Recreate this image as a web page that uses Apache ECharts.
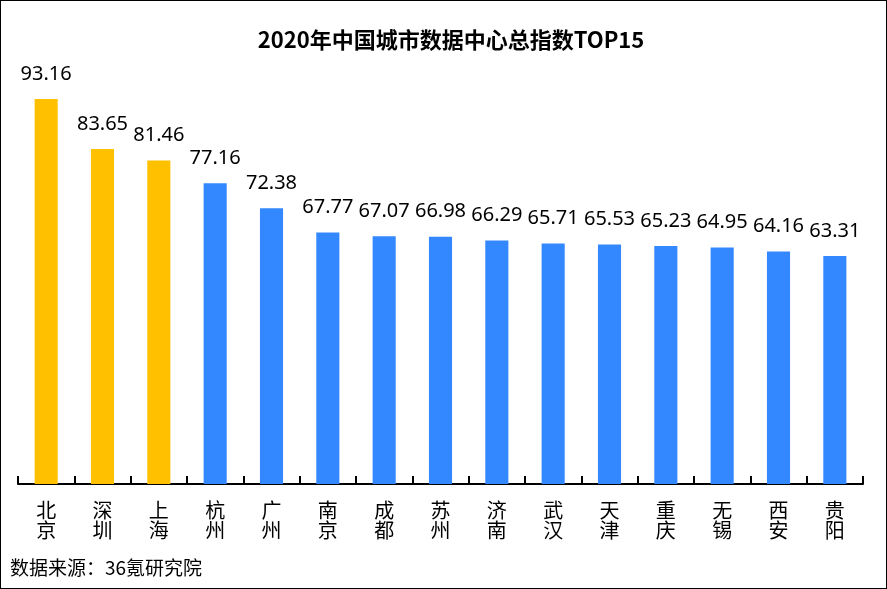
<!DOCTYPE html>
<html><head><meta charset="utf-8">
<script src="https://cdn.jsdelivr.net/npm/echarts@6/dist/echarts.min.js"></script>
<style>
html,body{margin:0;padding:0;background:#fff;}
#c{width:887px;height:589px;box-sizing:border-box;border:1px solid #000;}
</style></head>
<body><div id="c"></div>
<script>
const title = '2020年中国城市数据中心总指数TOP15';
const source = '数据来源：36氪研究院';
const cities = ['北京','深圳','上海','杭州','广州','南京','成都','苏州','济南','武汉','天津','重庆','无锡','西安','贵阳'];
const scores = [93.16,83.65,81.46,77.16,72.38,67.77,67.07,66.98,66.29,65.71,65.53,65.23,64.95,64.16,63.31];
const topCount = 3;

const chart = echarts.init(document.getElementById('c'), null, {renderer:'canvas'});
chart.setOption({
  backgroundColor:'#fff',
  animation:false,
  title:{text:title,left:445,textAlign:'center',top:23,
    textStyle:{fontFamily:'"Noto Sans CJK SC"',fontSize:22,fontWeight:'bold',color:'#000'}},
  graphic:[{type:'text',left:9,top:557,style:{text:source,fontFamily:'"Noto Sans CJK SC"',fontSize:19,fill:'#000'}}],
  grid:{left:17,right:23,top:62,bottom:104,containLabel:false},
  xAxis:{type:'category',data:cities,
    axisLine:{lineStyle:{color:'#000',width:2}},
    axisTick:{show:true,inside:true,length:8,lineStyle:{color:'#000',width:2}},
    axisLabel:{interval:0,margin:16,fontFamily:'"Noto Sans CJK SC"',fontSize:20,color:'#000',lineHeight:20,
      formatter:v=>v.split('').join('\n')}},
  yAxis:{type:'value',min:20,max:100,show:false,splitLine:{show:false}},
  series:[{type:'bar',data:scores,barWidth:'41%',
    itemStyle:{color:p=>p.dataIndex<topCount?'#FFC000':'#3388FF'},
    label:{show:true,position:'top',distance:15,fontFamily:'"Noto Sans"',fontSize:20,color:'#000',
      formatter:p=>p.value.toFixed(2)}}]
});
</script></body></html>
